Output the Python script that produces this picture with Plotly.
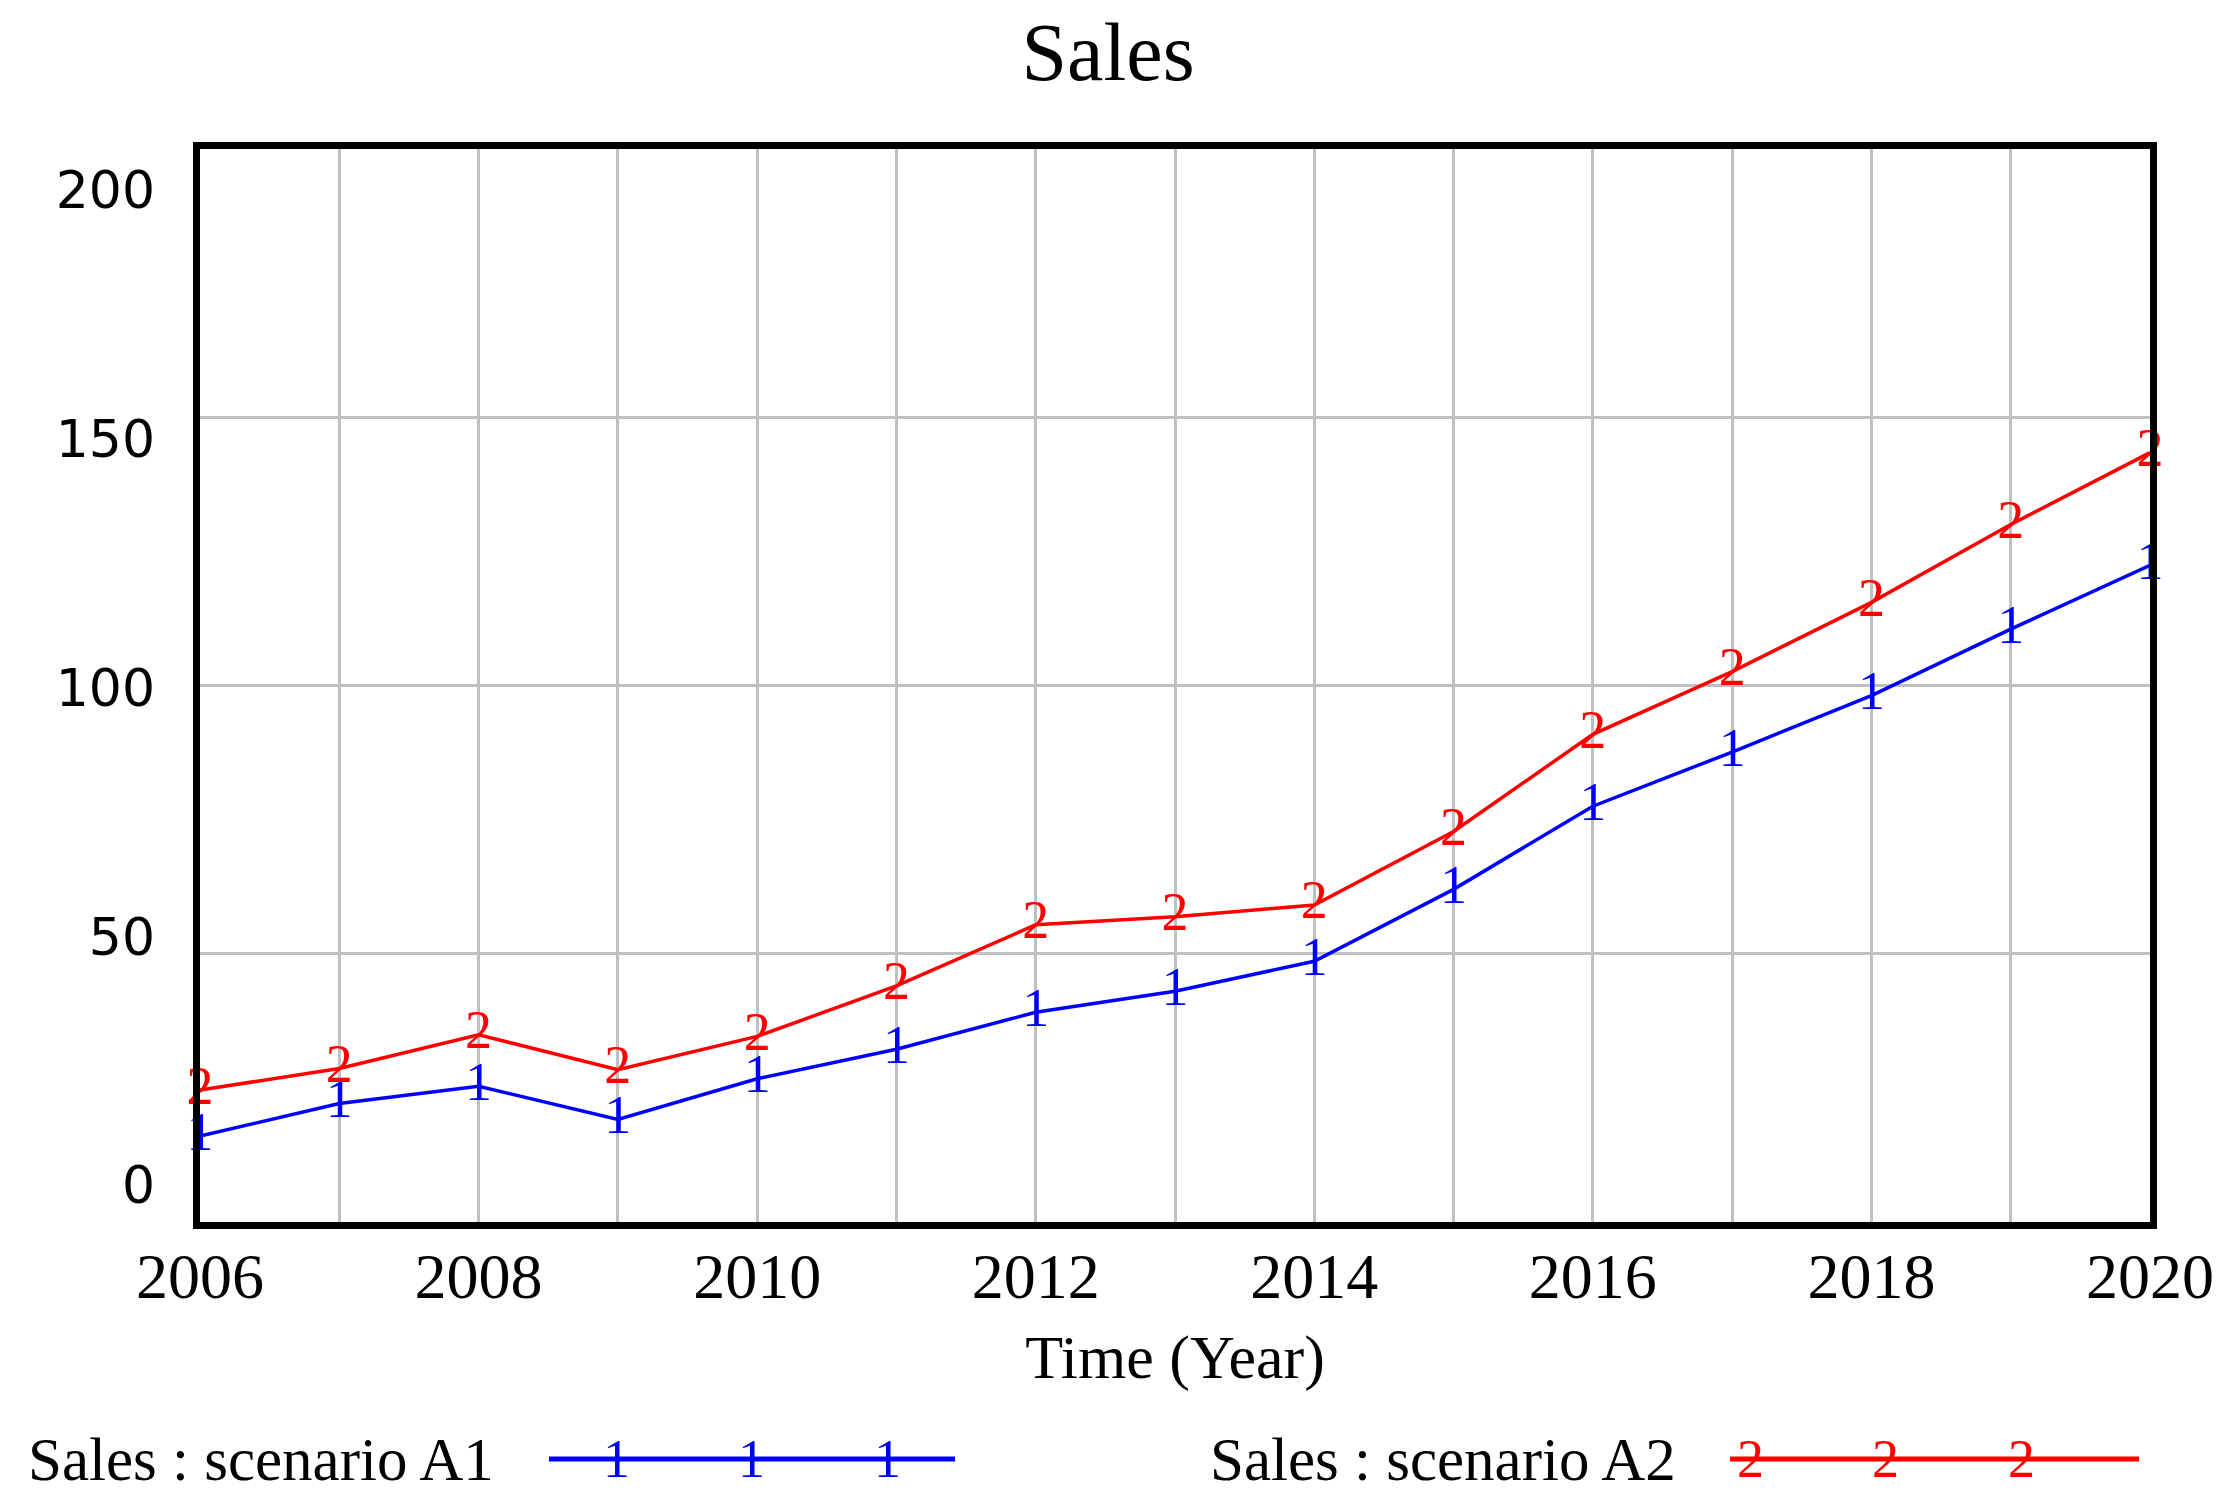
import plotly.graph_objects as go

years = list(range(2006, 2021))
sales_a1 = [16.0, 22.1, 25.3, 19.1, 26.7, 32.2, 39.1, 43.0, 48.6, 62.0, 77.5, 87.6, 98.1, 110.5, 122.4]
sales_a2 = [24.6, 28.6, 34.9, 28.4, 34.6, 44.0, 55.4, 56.9, 59.1, 72.8, 90.9, 102.6, 115.5, 130.0, 143.4]
series_names = ["Sales : scenario A1", "Sales : scenario A2"]
series_marks = ["1", "2"]
series_colors = ["#0000ff", "#ff0000"]
x_tick_vals = years
x_tick_text = [str(y) if y % 2 == 0 else "" for y in years]
y_tick_vals = [0, 50, 100, 150, 200]

W, H = 2236, 1505
OFF = 8  # page body margin offset
L, R, T, B = 200 - OFF, 2150 - OFF, 149 - OFF, 1222 - OFF
SERIF = "Liberation Serif"
SANS = "DejaVu Sans"

def px(x):
    return (x - OFF - L) / (R - L)

def py(y):
    return (B - (y - OFF)) / (B - T)

fig = go.Figure()
for vals, name, mark, col in zip([sales_a1, sales_a2], series_names, series_marks, series_colors):
    fig.add_trace(go.Scatter(
        x=years, y=vals, name=name, mode="lines+text",
        text=[mark] * len(years), textposition="middle center",
        textfont=dict(family=SERIF, size=54, color=col),
        line=dict(color=col, width=3.5), showlegend=False, cliponaxis=False,
    ))
# helper trace to carry the offset tick-label axis
fig.add_trace(go.Scatter(x=[], y=[], yaxis="y2", showlegend=False, hoverinfo="skip"))

annotations = []
shapes = []
legend_spec = [
    (26, 549, 955, [616, 751, 887]),
    (1208, 1730, 2139, [1750, 1885, 2021]),
]
ly = 1459
for (tx, lx0, lx1, mks), name, mark, col in zip(legend_spec, series_names, series_marks, series_colors):
    annotations.append(dict(x=px(tx), y=py(ly), xref="paper", yref="paper", text=name,
                            showarrow=False, xanchor="left", yanchor="middle",
                            font=dict(family=SERIF, size=61, color="black")))
    shapes.append(dict(type="line", xref="paper", yref="paper", x0=px(lx0), x1=px(lx1),
                       y0=py(ly), y1=py(ly), line=dict(color=col, width=5)))
    for m in mks:
        annotations.append(dict(x=px(m), y=py(ly), xref="paper", yref="paper", text=mark,
                                showarrow=False, xanchor="center", yanchor="middle",
                                font=dict(family=SERIF, size=54, color=col)))

fig.update_layout(
    width=W, height=H,
    margin=dict(l=L, r=W - R, t=T, b=H - B, pad=0),
    paper_bgcolor="white", plot_bgcolor="white",
    title=dict(text="Sales", x=(1108 - OFF) / W, xanchor="center", y=1 - (51 - OFF) / H,
               yanchor="middle", xref="container", yref="container",
               font=dict(family=SERIF, size=82, color="black")),
    xaxis=dict(range=[2006, 2020], tickvals=x_tick_vals, ticktext=x_tick_text,
               showgrid=True, gridcolor="#c0c0c0", gridwidth=2.5, zeroline=False,
               showline=True, linecolor="black", linewidth=7, mirror=True,
               ticks="", ticklabelstandoff=-8,
               tickfont=dict(family=SERIF, size=64, color="black"),
               title=dict(text="Time (Year)", standoff=26,
                          font=dict(family=SERIF, size=62, color="black"))),
    yaxis=dict(range=[0, 200], tickvals=y_tick_vals, showticklabels=False,
               showgrid=True, gridcolor="#c0c0c0", gridwidth=2.5, zeroline=False,
               showline=True, linecolor="black", linewidth=7, mirror=True, ticks=""),
    yaxis2=dict(overlaying="y", side="left", range=[-7.4, 208.2], tickvals=y_tick_vals,
                showgrid=False, zeroline=False, showline=False, ticks="",
                ticklabelstandoff=44,
                tickfont=dict(family=SANS, size=52, color="black")),
    annotations=annotations, shapes=shapes,
)
fig.write_html("out.html")
